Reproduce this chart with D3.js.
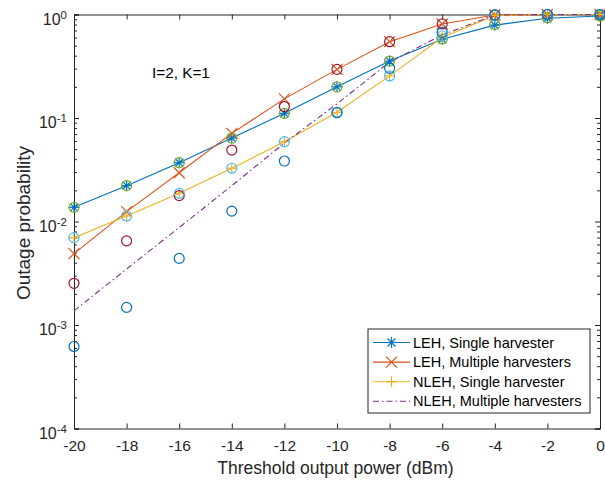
<!DOCTYPE html>
<html>
<head>
<meta charset="utf-8">
<script src="https://cdn.jsdelivr.net/npm/d3@7"></script>
<style>
  html, body { margin: 0; padding: 0; background: #fff; }
  svg { display: block; font-family: "Liberation Sans", Arial, sans-serif; }
</style>
</head>
<body>
<svg id="chart" width="605" height="481"></svg>
<script>
// Threshold output power (dBm)
const thresholds = [-20, -18, -16, -14, -12, -10, -8, -6, -4, -2, 0];

// Analytical outage probabilities
const lehSingle   = [0.0137, 0.0222, 0.037, 0.064, 0.111, 0.20, 0.355, 0.576, 0.79, 0.92, 0.967];
const lehMulti    = [0.0049, 0.01245, 0.0296, 0.071, 0.153, 0.295, 0.546, 0.81, 0.99, 1.0, 1.0];
const nlehSingle  = [0.00698, 0.0113, 0.0187, 0.0327, 0.059, 0.1135, 0.255, 0.60, 0.98, 1.0, 1.0];
const nlehMulti   = [0.00137, 0.00348, 0.00875, 0.0222, 0.0573, 0.137, 0.347, 0.634, 0.99, 1.0, 1.0];

// Simulated outage probabilities (circles)
const simLehSingle  = [0.0137, 0.0222, 0.037, 0.064, 0.111, 0.20, 0.355, 0.58, 0.80, 0.93, 0.967];
const simLehMulti   = [0.00253, 0.0065, 0.0178, 0.049, 0.129, 0.295, 0.546, 0.81, 0.99, 1.0, 1.0];
const simNlehSingle = [0.00698, 0.0113, 0.0187, 0.0327, 0.059, 0.1135, 0.255, 0.62, 0.98, 1.0, 1.0];
const simNlehMulti  = [0.00062, 0.00148, 0.0044, 0.0126, 0.0384, 0.1125, 0.302, 0.673, 0.99, 1.0, 1.0];

const xTicks = [-20, -18, -16, -14, -12, -10, -8, -6, -4, -2, 0];
const yTickExps = [0, -1, -2, -3, -4];

const legendLabels = ["LEH, Single harvester", "LEH, Multiple harvesters",
                      "NLEH, Single harvester", "NLEH, Multiple harvesters"];

const svg = d3.select("#chart");
const m = { left: 74, right: 600, top: 14.5, bottom: 428.5 };
const axisColor = "#262626";

const x = d3.scaleLinear().domain([-20, 0]).range([m.left, m.right]);
const y = d3.scaleLog().domain([1e-4, 1]).range([m.bottom, m.top]);

// Axes (ticks pointing inward, box on all four sides)
const bottomAxis = d3.axisBottom(x).tickValues(xTicks).tickSize(-5).tickPadding(11)
  .tickFormat(d => d === 0 ? "0" : "-" + Math.abs(d));
const gx = svg.append("g").attr("transform", `translate(0,${m.bottom})`).call(bottomAxis);
const topAxis = d3.axisTop(x).tickValues(xTicks).tickSize(-5).tickFormat("");
const gxt = svg.append("g").attr("transform", `translate(0,${m.top})`).call(topAxis);

const minorVals = [];
for (let e = -4; e < 0; e++) for (let k = 2; k <= 9; k++) minorVals.push(k * Math.pow(10, e));
const majorVals = yTickExps.map(e => Math.pow(10, e));

const leftAxis = d3.axisLeft(y).tickValues(majorVals).tickSize(-5).tickFormat("");
const gy = svg.append("g").attr("transform", `translate(${m.left},0)`).call(leftAxis);
const leftMinor = d3.axisLeft(y).tickValues(minorVals).tickSize(-3).tickFormat("");
const gym = svg.append("g").attr("transform", `translate(${m.left},0)`).call(leftMinor);
const rightAxis = d3.axisRight(y).tickValues(majorVals).tickSize(-5).tickFormat("");
const gyr = svg.append("g").attr("transform", `translate(${m.right},0)`).call(rightAxis);
const rightMinor = d3.axisRight(y).tickValues(minorVals).tickSize(-3).tickFormat("");
const gyrm = svg.append("g").attr("transform", `translate(${m.right},0)`).call(rightMinor);

[gx, gxt, gy, gym, gyr, gyrm].forEach(g => {
  g.selectAll(".domain").attr("stroke", axisColor).attr("stroke-width", 1);
  g.selectAll(".tick line").attr("stroke", axisColor);
});
gx.selectAll(".tick text").attr("fill", axisColor).attr("font-size", 15.5)
  .attr("font-family", "Liberation Sans, Arial, sans-serif");

// Y tick labels as 10^n
yTickExps.forEach(e => {
  const t = svg.append("text")
    .attr("x", m.left - 7).attr("y", y(Math.pow(10, e)) + 10)
    .attr("text-anchor", "end").attr("fill", axisColor).attr("font-size", 16);
  t.append("tspan").text("10");
  t.append("tspan").attr("dy", -6).attr("font-size", 11.5).text(String(e));
});

// Axis titles
svg.append("text").attr("x", (m.left + m.right) / 2 - 1.5).attr("y", 474)
  .attr("text-anchor", "middle").attr("fill", axisColor).attr("font-size", 17.5)
  .text("Threshold output power (dBm)");
svg.append("text").attr("transform", `translate(29.5,223) rotate(-90)`)
  .attr("text-anchor", "middle").attr("fill", axisColor).attr("font-size", 19)
  .text("Outage probability");

// Annotation
svg.append("text").attr("x", 152).attr("y", 77.5).attr("fill", "#000").attr("font-size", 15.3)
  .text("I=2, K=1");

const plot = svg.append("g");
const line = d3.line().x((d, i) => x(thresholds[i])).y(d => y(d));

const colors = {
  blue: "#0072BD", orange: "#D95319", yellow: "#EDB120", purple: "#7E2F8E",
  green: "#77AC30", cyan: "#4DBEEE", red: "#A2142F"
};

// Marker symbols
function star(g, cx, cy, c, s) {
  const p = g.append("g").attr("stroke", c).attr("stroke-width", 1.2);
  p.append("line").attr("x1", cx - s).attr("x2", cx + s).attr("y1", cy).attr("y2", cy);
  p.append("line").attr("x1", cx).attr("x2", cx).attr("y1", cy - s).attr("y2", cy + s);
  const d = s * 0.72;
  p.append("line").attr("x1", cx - d).attr("x2", cx + d).attr("y1", cy - d).attr("y2", cy + d);
  p.append("line").attr("x1", cx - d).attr("x2", cx + d).attr("y1", cy + d).attr("y2", cy - d);
}
function cross(g, cx, cy, c, s) {
  const p = g.append("g").attr("stroke", c).attr("stroke-width", 1.2);
  p.append("line").attr("x1", cx - s).attr("x2", cx + s).attr("y1", cy - s).attr("y2", cy + s);
  p.append("line").attr("x1", cx - s).attr("x2", cx + s).attr("y1", cy + s).attr("y2", cy - s);
}
function plus(g, cx, cy, c, s) {
  const p = g.append("g").attr("stroke", c).attr("stroke-width", 1.2);
  p.append("line").attr("x1", cx - s).attr("x2", cx + s).attr("y1", cy).attr("y2", cy);
  p.append("line").attr("x1", cx).attr("x2", cx).attr("y1", cy - s).attr("y2", cy + s);
}

const series = [
  { data: lehSingle, color: colors.blue, marker: star, dash: null },
  { data: lehMulti, color: colors.orange, marker: cross, dash: null },
  { data: nlehSingle, color: colors.yellow, marker: plus, dash: null },
  { data: nlehMulti, color: colors.purple, marker: null, dash: "6,3,1.5,3" }
];

series.forEach(s => {
  plot.append("path").datum(s.data).attr("d", line)
    .attr("fill", "none").attr("stroke", s.color).attr("stroke-width", 1.1)
    .attr("stroke-dasharray", s.dash);
});
series.forEach(s => {
  if (!s.marker) return;
  s.data.forEach((v, i) => s.marker(plot, x(thresholds[i]), y(v), s.color, 5.5));
});

// Simulation circles
const sims = [
  { data: simLehSingle, color: colors.green },
  { data: simLehMulti, color: colors.red },
  { data: simNlehSingle, color: colors.cyan },
  { data: simNlehMulti, color: colors.blue }
];
sims.forEach(s => {
  plot.selectAll(null).data(s.data).enter().append("circle")
    .attr("cx", (d, i) => x(thresholds[i])).attr("cy", d => y(d)).attr("r", 5)
    .attr("fill", "none").attr("stroke", s.color).attr("stroke-width", 1.2);
});

// Legend
const lg = svg.append("g");
const lx0 = 368, ly0 = 329, lw = 222, lh = 84;
lg.append("rect").attr("x", lx0).attr("y", ly0).attr("width", lw).attr("height", lh)
  .attr("fill", "#fff").attr("stroke", axisColor).attr("stroke-width", 1);
series.forEach((s, i) => {
  const yy = ly0 + 13.5 + i * 19.6;
  lg.append("line").attr("x1", lx0 + 5).attr("x2", lx0 + 42).attr("y1", yy).attr("y2", yy)
    .attr("stroke", s.color).attr("stroke-width", 1.1).attr("stroke-dasharray", s.dash);
  if (s.marker) s.marker(lg, lx0 + 23.5, yy, s.color, 5.5);
  lg.append("text").attr("x", lx0 + 45).attr("y", yy + 5).attr("fill", "#000")
    .attr("font-size", 14.5).text(legendLabels[i]);
});
</script>
</body>
</html>
